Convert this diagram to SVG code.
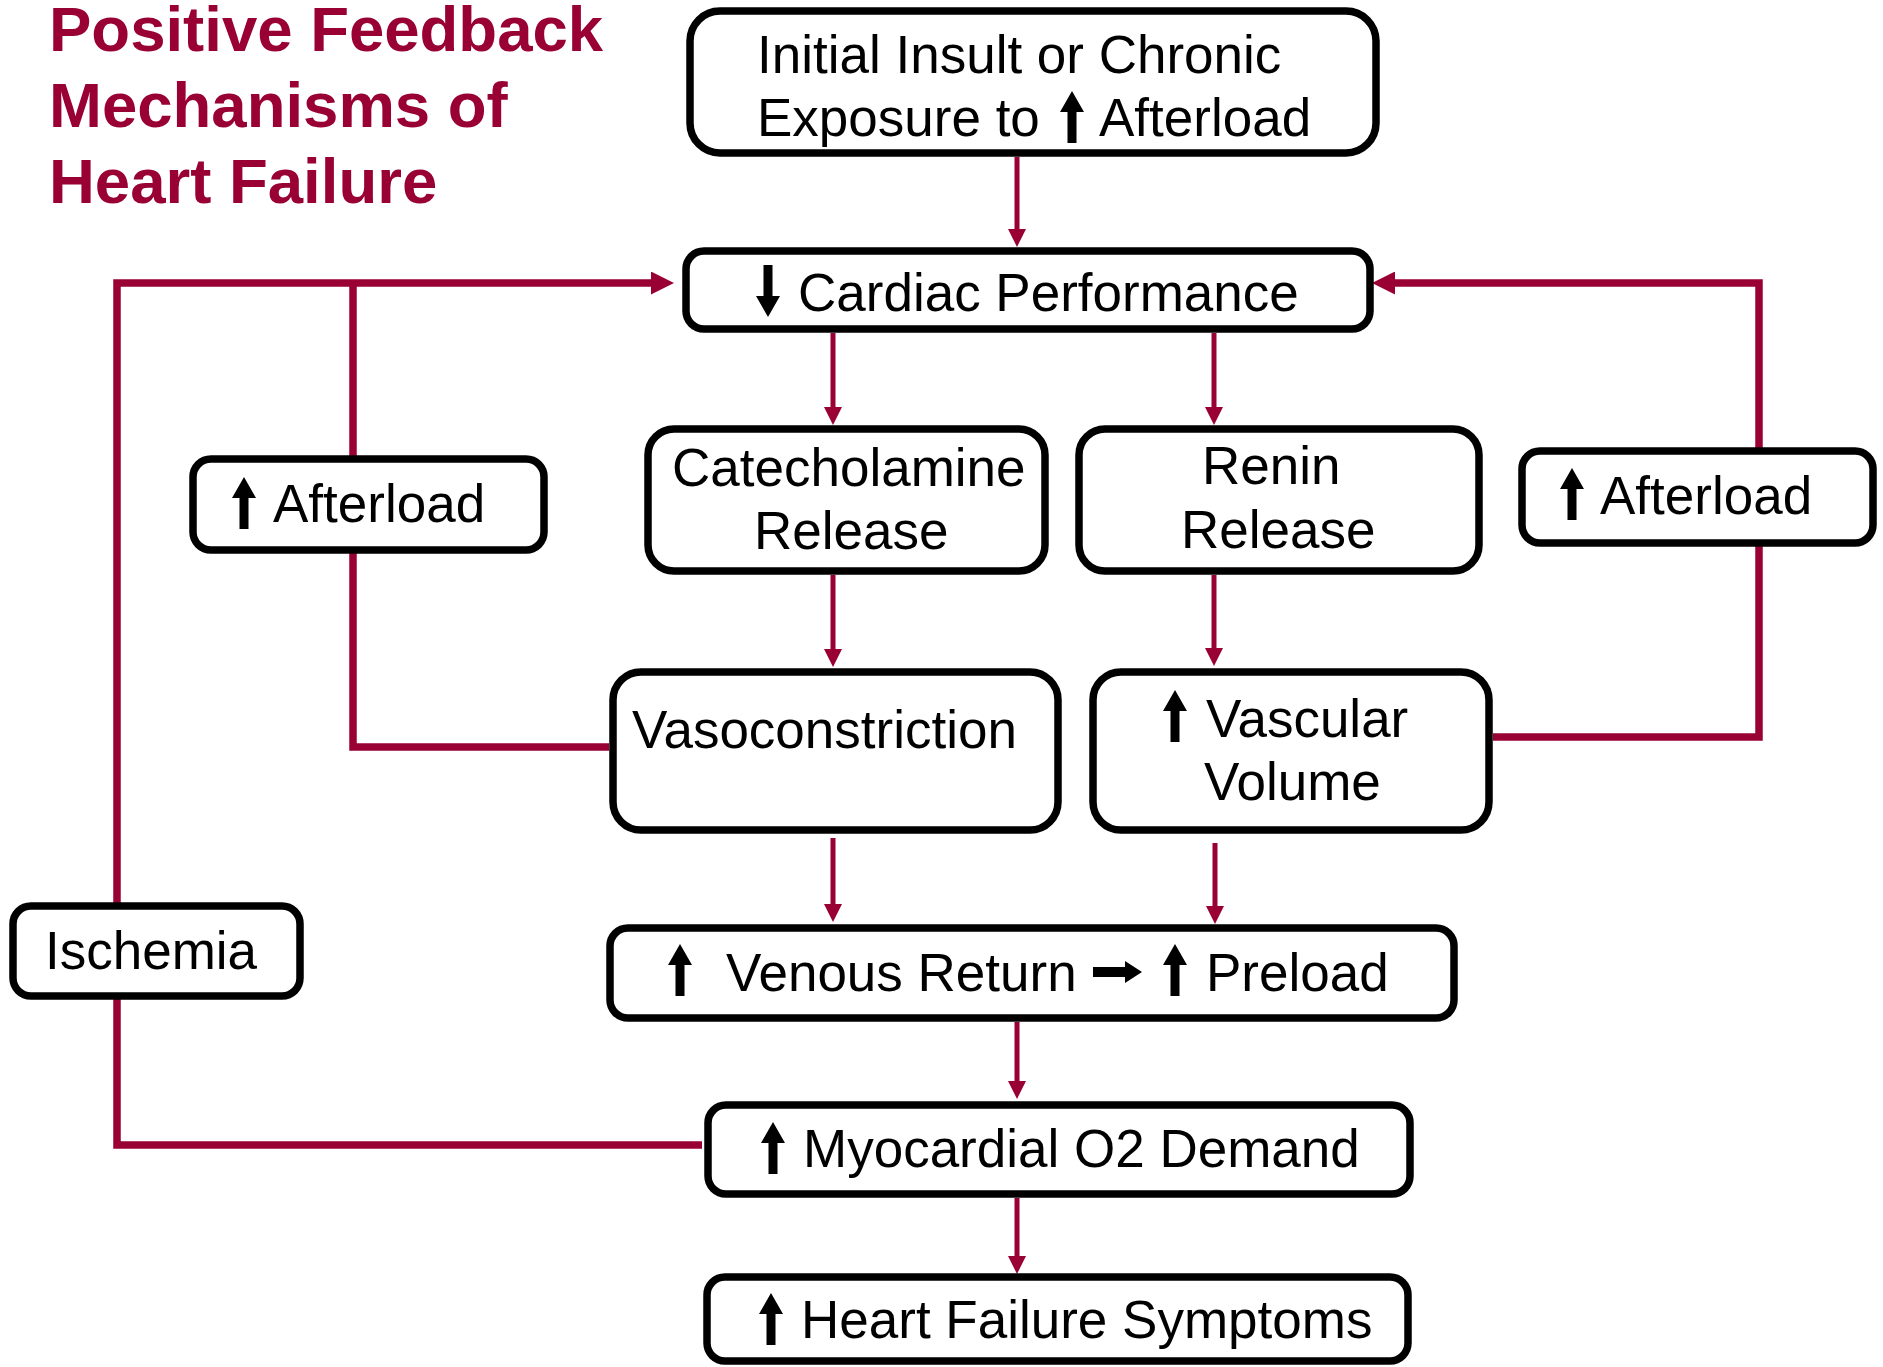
<svg xmlns="http://www.w3.org/2000/svg" xmlns:xlink="http://www.w3.org/1999/xlink" width="1883" height="1367" viewBox="0 0 1883 1367">
<style>
.box{fill:#fff;stroke:#000;stroke-width:7.5}
.t{font-family:"Liberation Sans",Arial,sans-serif;font-size:53px;fill:#000}
.title{font-family:"Liberation Sans",Arial,sans-serif;font-size:63.5px;font-weight:bold;fill:#990033}
.arr{fill:none;stroke:#990033;stroke-width:5}
.loop{fill:none;stroke:#990033;stroke-width:7.5}
.glyph{fill:#000}
</style>
<defs>
<marker id="hs" markerUnits="userSpaceOnUse" viewBox="0 0 18 18" refX="2" refY="9" markerWidth="18" markerHeight="18" orient="auto"><path d="M0,0 L18,9 L0,18 z" fill="#990033"/></marker>
<marker id="hl" markerUnits="userSpaceOnUse" viewBox="0 0 23 23" refX="2" refY="11.5" markerWidth="23" markerHeight="23" orient="auto"><path d="M0,0 L23,11.5 L0,23 z" fill="#990033"/></marker>
<symbol id="up" viewBox="0 0 24 52"><polygon points="12,0 24,21 16.5,21 16.5,52 7.5,52 7.5,21 0,21"/></symbol>
<symbol id="down" viewBox="0 0 24 52"><polygon points="12,52 24,31 16.5,31 16.5,0 7.5,0 7.5,31 0,31"/></symbol>
<symbol id="right" viewBox="0 0 49 22"><polygon points="0,6 32,6 32,0 49,11 32,22 32,16 0,16"/></symbol>
</defs>

<g id="title">
<text class="title" x="49" y="51">Positive Feedback</text>
<text class="title" x="49" y="127">Mechanisms of</text>
<text class="title" x="49" y="203">Heart Failure</text>
</g>

<g id="connectors">
<path class="loop" d="M609,747 H353 V283"/>
<path class="loop" d="M702,1145 H117 V283 H653" marker-end="url(#hl)"/>
<path class="loop" d="M1493,737 H1759 V283 H1393" marker-end="url(#hl)"/>
<line class="arr" x1="1017" y1="157" x2="1017" y2="231" marker-end="url(#hs)"/>
<line class="arr" x1="833" y1="333" x2="833" y2="409" marker-end="url(#hs)"/>
<line class="arr" x1="1214" y1="333" x2="1214" y2="409" marker-end="url(#hs)"/>
<line class="arr" x1="833" y1="575" x2="833" y2="651" marker-end="url(#hs)"/>
<line class="arr" x1="1214" y1="575" x2="1214" y2="650" marker-end="url(#hs)"/>
<line class="arr" x1="833" y1="838" x2="833" y2="906" marker-end="url(#hs)"/>
<line class="arr" x1="1215" y1="843" x2="1215" y2="908" marker-end="url(#hs)"/>
<line class="arr" x1="1017" y1="1022" x2="1017" y2="1083" marker-end="url(#hs)"/>
<line class="arr" x1="1017" y1="1198" x2="1017" y2="1258" marker-end="url(#hs)"/>
</g>

<g id="n-initial">
<rect class="box" x="690" y="11" width="686" height="142" rx="30"/>
<text class="t" x="757" y="73">Initial Insult or Chronic</text>
<text class="t" x="757" y="136">Exposure to</text>
<use href="#up" x="1060" y="91" width="24" height="52" class="glyph"/>
<text class="t" x="1099" y="136">Afterload</text>
</g>

<g id="n-cardiac">
<rect class="box" x="686" y="251" width="684" height="78" rx="18"/>
<use href="#down" x="756" y="265" width="24" height="52" class="glyph"/>
<text class="t" x="798" y="311">Cardiac Performance</text>
</g>

<g id="n-afterload-left">
<rect class="box" x="193" y="459" width="351" height="91" rx="18"/>
<use href="#up" x="232" y="477" width="24" height="52" class="glyph"/>
<text class="t" x="273" y="522">Afterload</text>
</g>

<g id="n-afterload-right">
<rect class="box" x="1522" y="451" width="351" height="92" rx="18"/>
<use href="#up" x="1560" y="468" width="24" height="52" class="glyph"/>
<text class="t" x="1600" y="514">Afterload</text>
</g>

<g id="n-catecholamine">
<rect class="box" x="648" y="429" width="397" height="142" rx="26"/>
<text class="t" x="672" y="486">Catecholamine</text>
<text class="t" x="754" y="549">Release</text>
</g>

<g id="n-renin">
<rect class="box" x="1079" y="429" width="400" height="142" rx="26"/>
<text class="t" x="1202" y="484">Renin</text>
<text class="t" x="1181" y="548">Release</text>
</g>

<g id="n-vaso">
<rect class="box" x="613" y="672" width="445" height="158" rx="28"/>
<text class="t" x="632" y="748">Vasoconstriction</text>
</g>

<g id="n-vascular">
<rect class="box" x="1093" y="672" width="396" height="158" rx="28"/>
<use href="#up" x="1163" y="690" width="24" height="52" class="glyph"/>
<text class="t" x="1206" y="737">Vascular</text>
<text class="t" x="1204" y="800">Volume</text>
</g>

<g id="n-venous">
<rect class="box" x="610" y="928" width="844" height="90" rx="18"/>
<use href="#up" x="668" y="944" width="24" height="52" class="glyph"/>
<text class="t" x="726" y="991">Venous Return</text>
<use href="#right" x="1093" y="961" width="49" height="22" class="glyph"/>
<use href="#up" x="1163" y="944" width="24" height="52" class="glyph"/>
<text class="t" x="1206" y="991">Preload</text>
</g>

<g id="n-ischemia">
<rect class="box" x="13" y="906" width="287" height="90" rx="18"/>
<text class="t" x="45" y="969">Ischemia</text>
</g>

<g id="n-myocardial">
<rect class="box" x="708" y="1105" width="702" height="89" rx="18"/>
<use href="#up" x="761" y="1122" width="24" height="52" class="glyph"/>
<text class="t" x="803" y="1167">Myocardial O2 Demand</text>
</g>

<g id="n-hf">
<rect class="box" x="707" y="1277" width="701" height="84" rx="18"/>
<use href="#up" x="759" y="1293" width="24" height="52" class="glyph"/>
<text class="t" x="801" y="1338">Heart Failure Symptoms</text>
</g>
</svg>
